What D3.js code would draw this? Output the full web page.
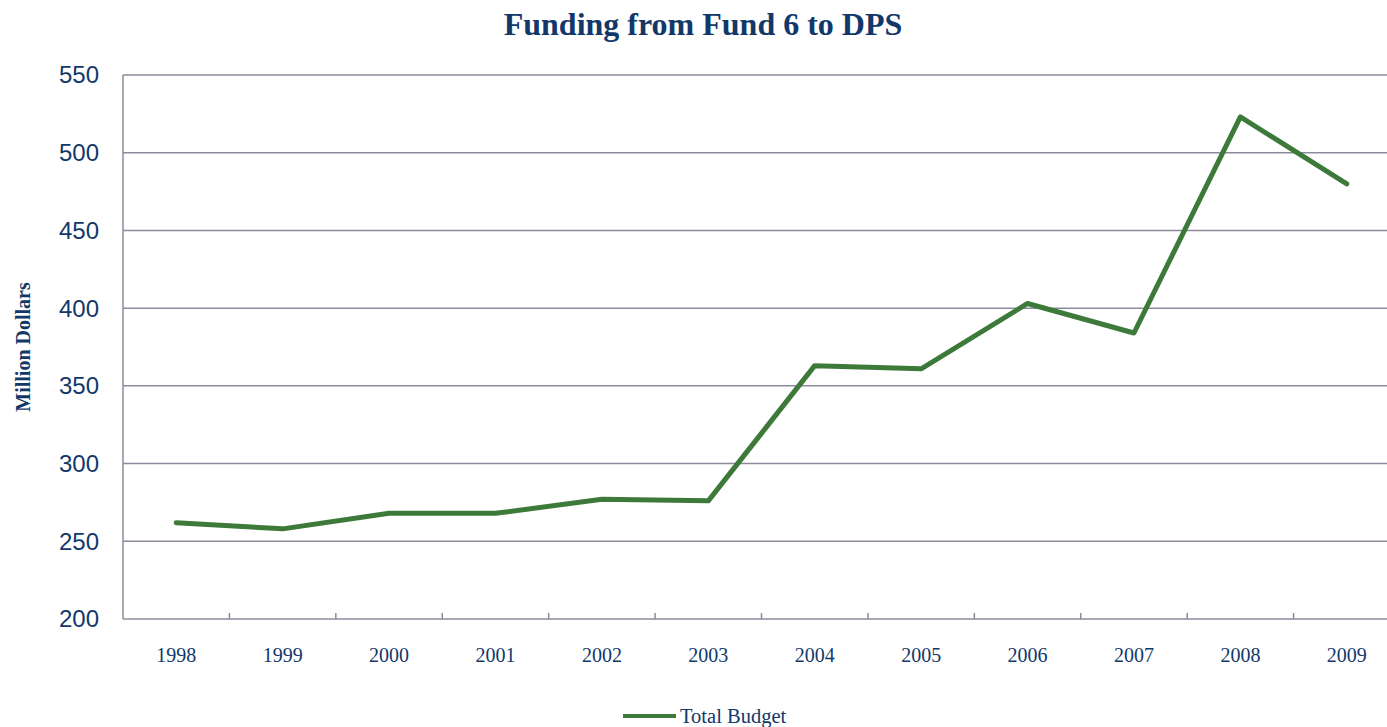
<!DOCTYPE html>
<html>
<head>
<meta charset="utf-8">
<script src="https://cdn.jsdelivr.net/npm/d3@7"></script>
<style>
  body { margin: 0; background: #fff; }
  svg { display: block; }
</style>
</head>
<body>
<div id="chart"></div>
<script>
// data
const years = ['1998', '1999', '2000', '2001', '2002', '2003', '2004', '2005', '2006', '2007', '2008', '2009'];
const totalBudget = [262, 258, 268, 268, 277, 276, 363, 361, 403, 384, 523, 480];
const yTicks = [200, 250, 300, 350, 400, 450, 500, 550];

const width = 1387, height = 727;
const margin = {top: 75, left: 123};
const plotW = 1277;   // runs past the right edge, clipped like the original
const plotH = 544;

const textColor = '#12386a';
const gridColor = '#8a8c9c';
const lineColor = '#3d7a3a';

const svg = d3.select('#chart').append('svg')
    .attr('width', width)
    .attr('height', height);

const chart = svg.append('g')
    .attr('transform', `translate(${margin.left},${margin.top})`);

const x = d3.scaleBand().domain(years).range([0, plotW]);
const y = d3.scaleLinear().domain([200, 550]).range([plotH, 0]);

// horizontal gridlines
chart.selectAll('.grid')
    .data(yTicks)
  .join('line')
    .attr('class', 'grid')
    .attr('x1', 0).attr('x2', plotW)
    .attr('y1', d => y(d)).attr('y2', d => y(d))
    .attr('stroke', gridColor)
    .attr('stroke-width', 1.5);

// y axis line
chart.append('line')
    .attr('x1', 0).attr('x2', 0)
    .attr('y1', 0).attr('y2', plotH)
    .attr('stroke', gridColor)
    .attr('stroke-width', 1.5);

// y tick labels
chart.selectAll('.ylab')
    .data(yTicks)
  .join('text')
    .attr('class', 'ylab')
    .attr('x', -24)
    .attr('y', d => y(d))
    .attr('dy', '0.35em')
    .attr('text-anchor', 'end')
    .style('font-family', '"Liberation Sans", Arial, sans-serif')
    .style('font-size', '24px')
    .attr('fill', textColor)
    .text(d => d);

// x tick marks at band boundaries, pointing up
chart.selectAll('.xtick')
    .data(years.slice(1))
  .join('line')
    .attr('class', 'xtick')
    .attr('x1', d => x(d)).attr('x2', d => x(d))
    .attr('y1', plotH).attr('y2', plotH - 6)
    .attr('stroke', gridColor)
    .attr('stroke-width', 1.5);

// x tick labels
chart.selectAll('.xlab')
    .data(years)
  .join('text')
    .attr('class', 'xlab')
    .attr('x', d => x(d) + x.bandwidth() / 2)
    .attr('y', plotH + 43)
    .attr('text-anchor', 'middle')
    .style('font-family', '"Liberation Serif", "Times New Roman", serif')
    .style('font-size', '20px')
    .attr('fill', textColor)
    .text(d => d);

// the line
const line = d3.line()
    .x((d, i) => x(years[i]) + x.bandwidth() / 2)
    .y(d => y(d));

chart.append('path')
    .datum(totalBudget)
    .attr('d', line)
    .attr('fill', 'none')
    .attr('stroke', lineColor)
    .attr('stroke-width', 5)
    .attr('stroke-linejoin', 'round')
    .attr('stroke-linecap', 'round');

// title
svg.append('text')
    .attr('x', 703)
    .attr('y', 35)
    .attr('text-anchor', 'middle')
    .style('font-family', '"Liberation Serif", "Times New Roman", serif')
    .style('font-size', '32px')
    .style('font-weight', 'bold')
    .attr('fill', textColor)
    .text('Funding from Fund 6 to DPS');

// y axis title
svg.append('text')
    .attr('transform', 'translate(30,347) rotate(-90)')
    .attr('text-anchor', 'middle')
    .style('font-family', '"Liberation Serif", "Times New Roman", serif')
    .style('font-size', '20px')
    .style('font-weight', 'bold')
    .attr('fill', textColor)
    .text('Million Dollars');

// legend
const legend = svg.append('g').attr('transform', 'translate(623,716)');
legend.append('line')
    .attr('x1', 0).attr('x2', 53)
    .attr('stroke', lineColor)
    .attr('stroke-width', 4);
legend.append('text')
    .attr('x', 57)
    .attr('dy', '0.35em')
    .style('font-family', '"Liberation Serif", "Times New Roman", serif')
    .style('font-size', '20.5px')
    .attr('fill', textColor)
    .text('Total Budget');
</script>
</body>
</html>
